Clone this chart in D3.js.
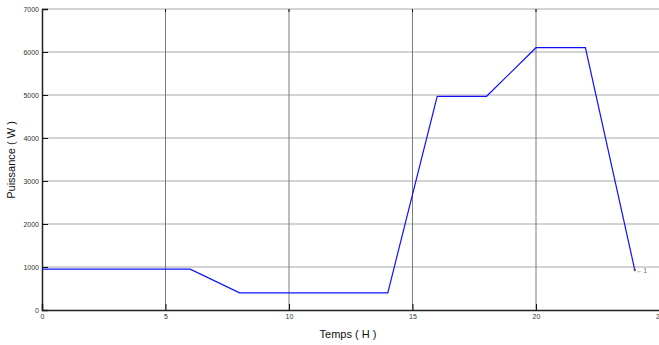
<!DOCTYPE html>
<html><head><meta charset="utf-8">
<script src="https://cdn.jsdelivr.net/npm/d3@7"></script>
<style>body{margin:0;background:#fff}svg{display:block}</style>
</head><body>
<svg id="c" width="659" height="345"></svg>
<script>
const hours = [0, 6, 8, 14, 16, 18, 20, 22, 24];
const power = [950, 950, 400, 400, 4970, 4970, 6100, 6100, 930];
const xTicks = [0, 5, 10, 15, 20, 25];
const yTicks = [0, 1000, 2000, 3000, 4000, 5000, 6000, 7000];
const xLabel = "Temps ( H )";
const yLabel = "Puissance ( W )";
const cursorLabel = "\u21901";

const svg = d3.select("#c");
const x = d3.scaleLinear().domain([0, 25]).range([42, 659.5]);
const y = d3.scaleLinear().domain([0, 7000]).range([310, 9]);

// horizontal grid
svg.append("g").selectAll("line").data(yTicks.filter(d => d > 0)).join("line")
  .attr("x1", x(0)).attr("x2", 659).attr("y1", d => y(d)).attr("y2", d => y(d))
  .attr("stroke", "#a8a8a8").attr("stroke-width", 1.2);
// vertical grid
svg.append("g").selectAll("line").data(xTicks.filter(d => d > 0 && d < 25)).join("line")
  .attr("x1", d => x(d)).attr("x2", d => x(d)).attr("y1", y(7000)).attr("y2", y(0))
  .attr("stroke", "#7a7a7a").attr("stroke-width", 1);

// axes
const yAxis = d3.axisLeft(y).tickValues(yTicks).tickSize(-6).tickPadding(3).tickFormat(d3.format("d"));
const gy = svg.append("g").attr("transform", `translate(${x(0)},0)`).call(yAxis);
gy.select(".domain").attr("stroke", "#222").attr("stroke-width", 1.5);
gy.selectAll(".tick line").attr("stroke", "#111");
gy.selectAll("text").attr("font-family", "Liberation Sans, Arial, sans-serif").attr("font-size", 7).attr("fill", "#333");

const xAxis = d3.axisBottom(x).tickValues(xTicks).tickSize(-6).tickPadding(4).tickFormat(d3.format("d"));
const gx = svg.append("g").attr("transform", `translate(0,${y(0)})`).call(xAxis);
gx.select(".domain").attr("stroke", "#222").attr("stroke-width", 1.5);
gx.selectAll(".tick line").attr("stroke", "#111");
gx.selectAll("text").attr("font-family", "Liberation Sans, Arial, sans-serif").attr("font-size", 7).attr("fill", "#333");

// top tick marks
svg.append("g").selectAll("line").data(xTicks.filter(d => d > 0 && d < 25)).join("line")
  .attr("x1", d => x(d)).attr("x2", d => x(d)).attr("y1", y(7000)).attr("y2", y(7000) + 3)
  .attr("stroke", "#111");

// data line
const line = d3.line().x((d, i) => x(hours[i])).y(d => y(d));
svg.append("path").datum(power).attr("d", line)
  .attr("fill", "none").attr("stroke", "#1010ff").attr("stroke-width", 1.2);

// cursor annotation
const last = power.length - 1;
svg.append("circle").attr("cx", x(hours[last])).attr("cy", y(power[last])).attr("r", 1.2).attr("fill", "#555");
svg.append("text").attr("x", x(hours[last]) + 1.5).attr("y", y(power[last]) + 2.5)
  .attr("font-family", "Liberation Sans, Arial, sans-serif").attr("font-size", 7).attr("fill", "#777")
  .text(cursorLabel);

// labels
svg.append("text").attr("x", 348).attr("y", 338).attr("text-anchor", "middle")
  .attr("font-family", "Liberation Sans, Arial, sans-serif").attr("font-size", 11).attr("fill", "#111").text(xLabel);
svg.append("text").attr("transform", "translate(15,160) rotate(-90)").attr("text-anchor", "middle")
  .attr("font-family", "Liberation Sans, Arial, sans-serif").attr("font-size", 11).attr("fill", "#111").text(yLabel);
</script>
</body></html>
